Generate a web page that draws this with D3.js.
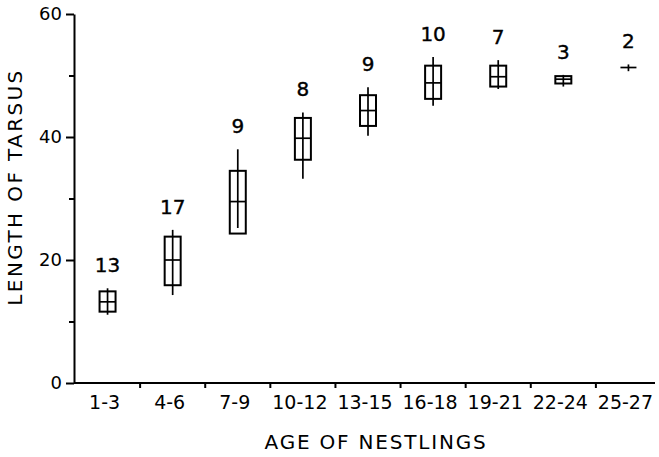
<!DOCTYPE html>
<html>
<head>
<meta charset="utf-8">
<script src="https://cdn.jsdelivr.net/npm/d3@7"></script>
<style>
  body { margin: 0; background: #fff; }
  svg { display: block; font-family: "DejaVu Sans", sans-serif; }
</style>
</head>
<body>
<svg id="chart"></svg>
<script>
// age classes (days) and tarsus length summary per class
const ages = ["1-3", "4-6", "7-9", "10-12", "13-15", "16-18", "19-21", "22-24", "25-27"];
const counts = [13, 17, 9, 8, 9, 10, 7, 3, 2];
const maxVals = [15.4, 24.9, 38.0, 44.0, 48.1, 53.0, 52.5, 50.1, 51.8];
const hiVals = [14.9, 23.8, 34.5, 43.1, 46.8, 51.6, 51.6, 49.9, 51.3];
const midVals = [13.2, 20.0, 29.5, 39.8, 44.3, 48.8, 49.8, 49.4, 51.3];
const loVals = [11.6, 15.9, 24.3, 36.3, 41.8, 46.2, 48.2, 48.7, 51.3];
const minVals = [11.1, 14.3, 25.2, 33.2, 40.2, 45.1, 47.8, 48.2, 50.7];
const majorTicks = [0, 20, 40, 60];
const minorTicks = [10, 30, 50];

const width = 659, height = 457;
const svg = d3.select("#chart").attr("width", width).attr("height", height);

const x = d3.scaleBand().domain(ages).range([75, 661]).padding(0);
const y = d3.scaleLinear().domain([0, 60]).range([383, 14]);

const rows = ages.map((a, i) => ({
  age: a, n: counts[i], max: maxVals[i], hi: hiVals[i],
  mid: midVals[i], lo: loVals[i], min: minVals[i]
}));

// y axis
const yAxis = svg.append("g").attr("transform", "translate(74,0)");
yAxis.call(d3.axisLeft(y).tickValues(majorTicks).tickSize(8).tickPadding(4).tickSizeOuter(0));
yAxis.append("g").call(d3.axisLeft(y).tickValues(minorTicks).tickSize(5).tickFormat(""))
  .select(".domain").remove();
yAxis.selectAll("line, path").attr("stroke", "#000").attr("stroke-width", 2);
yAxis.selectAll("text").attr("font-size", 18).attr("fill", "#000")
  .attr("font-family", "DejaVu Sans");

// x axis
const xAxis = svg.append("g").attr("transform", "translate(0,383)");
xAxis.call(d3.axisBottom(x).tickSize(0).tickPadding(13).tickSizeOuter(0));
xAxis.select(".domain").attr("d", "M74,0H655");
xAxis.selectAll("path").attr("stroke", "#000").attr("stroke-width", 2);
xAxis.selectAll("text").attr("font-size", 19).attr("fill", "#000")
  .attr("font-family", "DejaVu Sans").attr("dx", -3);
// ticks between the age classes
xAxis.selectAll(".sep").data(ages.slice(1)).join("line")
  .attr("class", "sep")
  .attr("x1", d => x(d)).attr("x2", d => x(d))
  .attr("y1", 0).attr("y2", 5)
  .attr("stroke", "#000").attr("stroke-width", 2);

// axis titles
svg.append("text")
  .attr("x", 376).attr("y", 449)
  .attr("text-anchor", "middle")
  .attr("font-size", 20).attr("letter-spacing", 1.8)
  .text("AGE OF NESTLINGS");

svg.append("text")
  .attr("transform", "translate(22,187) rotate(-90)")
  .attr("text-anchor", "middle")
  .attr("font-size", 20).attr("letter-spacing", 2.4)
  .text("LENGTH OF TARSUS");

// boxes
const bw = 16;
const g = svg.append("g").selectAll("g").data(rows).join("g")
  .attr("transform", d => `translate(${x(d.age) + x.bandwidth() / 2},0)`);

g.append("rect")
  .attr("x", -bw / 2).attr("width", bw)
  .attr("y", d => y(d.hi)).attr("height", d => y(d.lo) - y(d.hi))
  .attr("fill", "none").attr("stroke", "#000").attr("stroke-width", 2);

g.append("line")
  .attr("x1", -bw / 2).attr("x2", bw / 2)
  .attr("y1", d => y(d.mid)).attr("y2", d => y(d.mid))
  .attr("stroke", "#000").attr("stroke-width", 1.7);

g.append("line")
  .attr("x1", 0).attr("x2", 0)
  .attr("y1", d => y(d.max)).attr("y2", d => y(d.min))
  .attr("stroke", "#000").attr("stroke-width", 1.7);

g.append("text")
  .attr("y", d => y(d.max) - 16)
  .attr("text-anchor", "middle")
  .attr("font-size", 20)
  .attr("stroke", "#000").attr("stroke-width", 0.4)
  .text(d => d.n);
</script>
</body>
</html>
